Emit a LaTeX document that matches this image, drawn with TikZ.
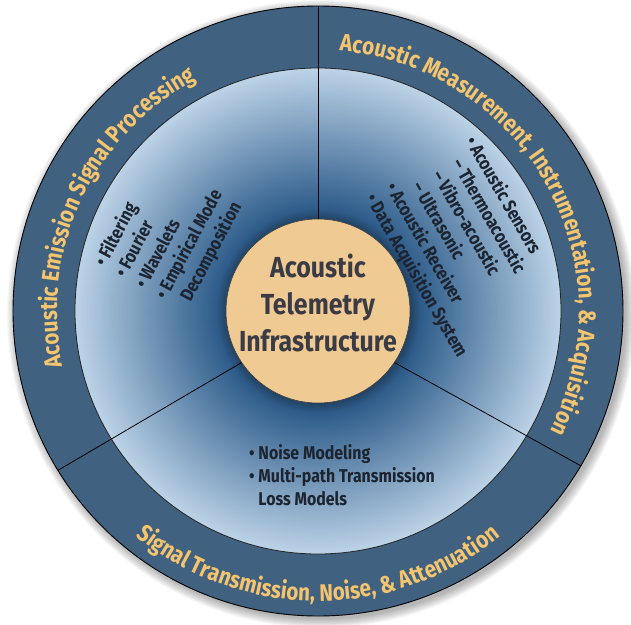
\documentclass[tikz,border=0pt]{standalone}
\usepackage{fontspec}
\setmainfont{Fira Sans}[FakeStretch=0.86]
\usepackage{tikz}
\usetikzlibrary{shapes.geometric}
\usetikzlibrary{calc}
\usetikzlibrary{decorations.text}
\definecolor{ringblue}{HTML}{40617F}
\definecolor{discdark}{HTML}{2F5D8B}
\definecolor{disclight}{HTML}{BCD3E7}
\definecolor{hubtan}{HTML}{EFCB93}
\definecolor{goldtext}{HTML}{F5C46E}
\definecolor{itemink}{HTML}{1C2430}
\definecolor{hubink}{HTML}{3B3B45}
\pgfdeclareradialshading{discshade}{\pgfpoint{0bp}{0bp}}{color(0bp)=(discdark); color(9.4bp)=(discdark!70!black); color(10.6bp)=(discdark); color(25bp)=(disclight); color(50bp)=(disclight)}
\newcommand\ringfont{\fontsize{24}{24}\selectfont\bfseries}
\tikzstyle{hub} = [circle, draw=black!75, line width=0.6pt, fill=hubtan, minimum size=184pt, inner sep=0pt]
\tikzstyle{hubtext} = [align=center, inner sep=0pt, font=\fontsize{29}{37}\selectfont\bfseries, text=hubink]
\tikzstyle{itemlist} = [align=left, inner sep=0pt, font=\fontsize{18.5}{23}\selectfont\bfseries, text=itemink]
\tikzstyle{divider} = [black, line width=0.8pt]
\tikzstyle{ringlabel} = [decorate, decoration={text along path, text align=center, text color=goldtext}]

\begin{document}
\begin{tikzpicture}[x=1pt, y=1pt]
    \fill[white] (-318,-313) rectangle (313,311);
    \useasboundingbox (-318,-313) rectangle (313,311);
    % soft shadow
    \foreach \k in {1,...,10}
        \fill[black, opacity=0.03] (3,-3) circle (304+\k);
    \fill[ringblue] (0,0) circle (305);
    \draw[black, line width=0.9pt] (0,0) circle (305);
    \fill[shading=discshade] (0,0) circle (243);
    \draw[black!85, line width=0.8pt] (0,0) circle (243);

    \node[hub] (hub) at (0,0) {};
    \coordinate (rimN) at (90:305);
    \coordinate (rimSW) at (211.5:305);
    \coordinate (rimSE) at (-30.5:305);
    \draw[divider] (hub.90) -- (rimN);
    \draw[divider] (hub.214) -- (rimSW);
    \draw[divider] (hub.-34) -- (rimSE);

    \node[hubtext] (hubtext) at (0,7.7) {Acoustic\\Telemetry\\Infrastructure};

    % ring titles
    \path[ringlabel, decoration={text={|\ringfont|Acoustic Emission Signal Processing}}]
        (205:261) arc[start angle=205, end angle=105, radius=261];
    \path[ringlabel, decoration={text={|\ringfont|Acoustic Measurement, Instrumentation, {\&} Acquisition}}]
        (100:261) arc[start angle=100, end angle=-42, radius=261];
    \path[ringlabel, decoration={text={|\ringfont|Signal Transmission, Noise, {\&} Attenuation}}]
        (215:290) arc[start angle=215, end angle=325, radius=290];

    % sector items
    \node[itemlist, rotate=62, anchor=north west] (procitems) at (-226.5,50)
        {\textbullet\ Filtering\\\textbullet\ Fourier\\\textbullet\ Wavelets\\\textbullet\ Empirical Mode\\\hphantom{\textbullet\ }Decomposition};
    \node[itemlist, rotate=-60, anchor=north west] (measitems) at (160,177.6)
        {\textbullet\ Acoustic Sensors\\\hspace*{13pt}--\ Thermoacoustic\\\hspace*{13pt}--\ Vibro-acoustic\\\hspace*{13pt}--\ Ultrasonic\\\textbullet\ Acoustic Receiver\\\textbullet\ Data Acquisition System};
    \node[itemlist, anchor=north west] (noiseitems) at (-69,-133.5)
        {\textbullet\ Noise Modeling\\\textbullet\ Multi-path Transmission\\\hphantom{\textbullet\ }Loss Models};
\end{tikzpicture}
\end{document}
